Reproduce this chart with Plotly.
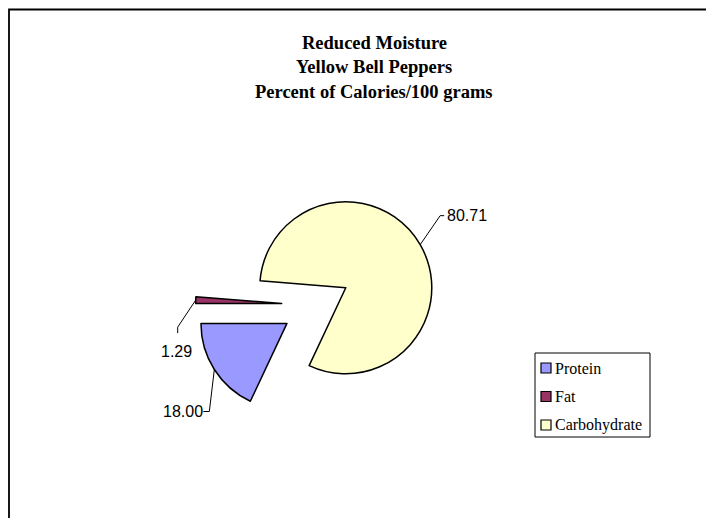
import math
import plotly.graph_objects as go

# ---- data ----
categories = ["Protein", "Fat", "Carbohydrate"]
values = [18.00, 1.29, 80.71]
colors = ["#9999FF", "#993366", "#FFFFCC"]
title_lines = ["Reduced Moisture", "Yellow Bell Peppers", "Percent of Calories/100 grams"]

# ---- layout constants (screen pixels) ----
WIN_W, WIN_H = 714, 518
OFF = 8  # page body margin
W, H = WIN_W - OFF, WIN_H - OFF
CX, CY, R = 316, 305, 86
PULL = 0.4
ROTATION = 205.2


def px(x):
    return (x - OFF) / W


def py(y):
    return 1 - (y - OFF) / H


half = R * (1 + PULL)
domain_x = [px(CX - half), px(CX + half)]
domain_y = [py(CY + half), py(CY - half)]

fig = go.Figure(
    go.Pie(
        labels=categories,
        values=values,
        marker=dict(colors=colors, line=dict(color="black", width=1.5)),
        sort=False,
        direction="clockwise",
        rotation=ROTATION,
        pull=[PULL] * len(values),
        textinfo="none",
        hoverinfo="label+value",
        showlegend=False,
        domain=dict(x=domain_x, y=domain_y),
    )
)

shapes = []
annotations = []

# chart area border (left/top visible)
shapes.append(dict(type="rect", xref="paper", yref="paper",
                   x0=px(9), y0=py(560), x1=px(760), y1=py(9.5),
                   line=dict(color="black", width=1.8), fillcolor="rgba(0,0,0,0)"))

# title
for i, t in enumerate(title_lines):
    annotations.append(dict(text="<b>%s</b>" % t, xref="paper", yref="paper",
                            x=px(374), y=py(55 + 24.5 * i), xanchor="center", yanchor="bottom",
                            showarrow=False,
                            font=dict(family="Liberation Serif", size=18.5, color="black")))

# data labels with leader lines
leader_style = [
    # (dx1, dy1, dx2, dy2, xanchor, yanchor, tx, ty)
    (-5, 42, -6, 0, "right", "middle", 2, 0),
    (-18, 27, 0, 6, "center", "top", -1, 8),
    (20, -29, 4, 0, "left", "middle", 1, 0),
]
total = sum(values)
cum = 0.0
for i, v in enumerate(values):
    mid = math.radians(ROTATION + 360.0 * (cum + v / 2) / total)
    cum += v
    ux, uy = math.sin(mid), -math.cos(mid)
    ax = CX + R * (1 + PULL) * ux
    ay = CY + R * (1 + PULL) * uy
    dx1, dy1, dx2, dy2, xa, ya, tx, ty = leader_style[i]
    bx, by = ax + dx1, ay + dy1
    cx2, cy2 = bx + dx2, by + dy2
    shapes.append(dict(type="path", xref="paper", yref="paper",
                       path="M %f,%f L %f,%f L %f,%f" % (px(ax), py(ay), px(bx), py(by), px(cx2), py(cy2)),
                       line=dict(color="black", width=1)))
    annotations.append(dict(text="%.2f" % v, xref="paper", yref="paper",
                            x=px(cx2 + tx), y=py(cy2 + ty), xanchor=xa, yanchor=ya,
                            showarrow=False,
                            font=dict(family="Liberation Sans", size=16, color="black")))

# legend (manual)
LX0, LY0, LX1, LY1 = 535, 353, 650, 437
shapes.append(dict(type="rect", xref="paper", yref="paper",
                   x0=px(LX0), y0=py(LY1), x1=px(LX1), y1=py(LY0),
                   line=dict(color="black", width=1), fillcolor="white"))
for i, (cat, col) in enumerate(zip(categories, colors)):
    yc = LY0 + 15 + 28.5 * i
    shapes.append(dict(type="rect", xref="paper", yref="paper",
                       x0=px(541), y0=py(yc + 5), x1=px(551), y1=py(yc - 5),
                       line=dict(color="black", width=1.2), fillcolor=col))
    annotations.append(dict(text=cat, xref="paper", yref="paper",
                            x=px(553), y=py(yc), xanchor="left", yanchor="middle",
                            showarrow=False,
                            font=dict(family="Liberation Serif", size=16, color="black")))

fig.update_layout(
    width=W, height=H,
    margin=dict(l=0, r=0, t=0, b=0),
    paper_bgcolor="white",
    plot_bgcolor="white",
    shapes=shapes,
    annotations=annotations,
)

fig.write_html("out.html")
